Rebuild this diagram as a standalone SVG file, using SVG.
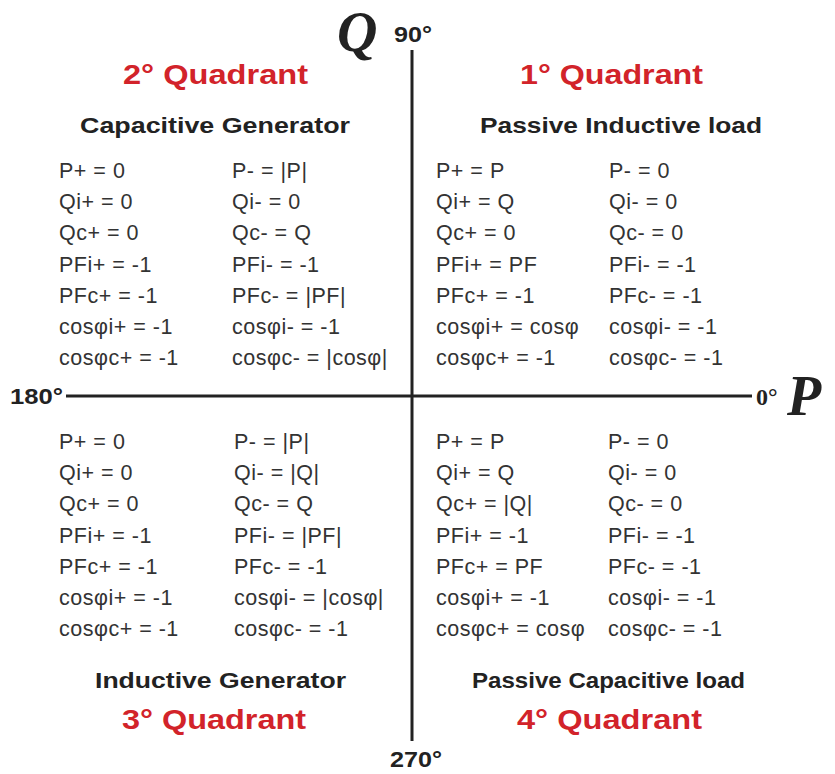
<svg xmlns="http://www.w3.org/2000/svg" width="835" height="774" viewBox="0 0 835 774">
<style>
.v{font-family:"Liberation Sans",Arial,sans-serif;font-size:21.5px;fill:#333;letter-spacing:0.5px}
.q{font-family:"Liberation Sans",Arial,sans-serif;font-size:27px;font-weight:bold;fill:#d2232a}
.s{font-family:"Liberation Sans",Arial,sans-serif;font-size:22px;font-weight:bold;fill:#222}
.b{font-family:"Liberation Sans",Arial,sans-serif;font-size:22px;font-weight:bold;fill:#222}
.big{font-family:"Liberation Serif","Times New Roman",serif;font-weight:bold;font-style:italic;fill:#222}
.ax{stroke:#222;stroke-width:3;fill:none}
</style>
<rect width="835" height="774" fill="#fff"/>
<g id="connectors">
<line class="ax" x1="412" y1="50" x2="412" y2="741"/>
<line class="ax" x1="66" y1="396" x2="752" y2="396"/>
</g>
<g id="axis-labels">
<text class="big" x="337" y="51" font-size="56">Q</text>
<text class="b" x="394" y="42" textLength="38" lengthAdjust="spacingAndGlyphs">90°</text>
<text class="b" x="10" y="404" textLength="53" lengthAdjust="spacingAndGlyphs">180°</text>
<text x="756" y="405" style="font-family:'Liberation Serif','Times New Roman',serif;font-size:24px;font-weight:bold;fill:#222">0°</text>
<text class="big" x="787" y="415" font-size="56">P</text>
<text class="b" x="390" y="767" textLength="52" lengthAdjust="spacingAndGlyphs">270°</text>
</g>
<g id="q2">
<text class="q" x="123" y="84" textLength="185" lengthAdjust="spacingAndGlyphs">2° Quadrant</text>
<text class="s" x="80" y="133" textLength="270" lengthAdjust="spacingAndGlyphs">Capacitive Generator</text>
<g class="v">
<text x="59" y="178">P+ = 0</text>
<text x="59" y="209">Qi+ = 0</text>
<text x="59" y="240">Qc+ = 0</text>
<text x="59" y="272">PFi+ = -1</text>
<text x="59" y="303">PFc+ = -1</text>
<text x="59" y="334">cosφi+ = -1</text>
<text x="59" y="365">cosφc+ = -1</text>
<text x="232" y="178">P- = |P|</text>
<text x="232" y="209">Qi- = 0</text>
<text x="232" y="240">Qc- = Q</text>
<text x="232" y="272">PFi- = -1</text>
<text x="232" y="303">PFc- = |PF|</text>
<text x="232" y="334">cosφi- = -1</text>
<text x="232" y="365">cosφc- = |cosφ|</text>
</g>
</g>
<g id="q1">
<text class="q" x="520" y="84" textLength="183" lengthAdjust="spacingAndGlyphs">1° Quadrant</text>
<text class="s" x="480" y="133" textLength="282" lengthAdjust="spacingAndGlyphs">Passive Inductive load</text>
<g class="v">
<text x="436" y="178">P+ = P</text>
<text x="436" y="209">Qi+ = Q</text>
<text x="436" y="240">Qc+ = 0</text>
<text x="436" y="272">PFi+ = PF</text>
<text x="436" y="303">PFc+ = -1</text>
<text x="436" y="334">cosφi+ = cosφ</text>
<text x="436" y="365">cosφc+ = -1</text>
<text x="609" y="178">P- = 0</text>
<text x="609" y="209">Qi- = 0</text>
<text x="609" y="240">Qc- = 0</text>
<text x="609" y="272">PFi- = -1</text>
<text x="609" y="303">PFc- = -1</text>
<text x="609" y="334">cosφi- = -1</text>
<text x="609" y="365">cosφc- = -1</text>
</g>
</g>
<g id="q3">
<g class="v">
<text x="59" y="449">P+ = 0</text>
<text x="59" y="480">Qi+ = 0</text>
<text x="59" y="511">Qc+ = 0</text>
<text x="59" y="543">PFi+ = -1</text>
<text x="59" y="574">PFc+ = -1</text>
<text x="59" y="605">cosφi+ = -1</text>
<text x="59" y="636">cosφc+ = -1</text>
<text x="234" y="449">P- = |P|</text>
<text x="234" y="480">Qi- = |Q|</text>
<text x="234" y="511">Qc- = Q</text>
<text x="234" y="543">PFi- = |PF|</text>
<text x="234" y="574">PFc- = -1</text>
<text x="234" y="605">cosφi- = |cosφ|</text>
<text x="234" y="636">cosφc- = -1</text>
</g>
<text class="s" x="95" y="688" font-size="23" textLength="251" lengthAdjust="spacingAndGlyphs">Inductive Generator</text>
<text class="q" x="122" y="729" textLength="184" lengthAdjust="spacingAndGlyphs">3° Quadrant</text>
</g>
<g id="q4">
<g class="v">
<text x="436" y="449">P+ = P</text>
<text x="436" y="480">Qi+ = Q</text>
<text x="436" y="511">Qc+ = |Q|</text>
<text x="436" y="543">PFi+ = -1</text>
<text x="436" y="574">PFc+ = PF</text>
<text x="436" y="605">cosφi+ = -1</text>
<text x="436" y="636">cosφc+ = cosφ</text>
<text x="608" y="449">P- = 0</text>
<text x="608" y="480">Qi- = 0</text>
<text x="608" y="511">Qc- = 0</text>
<text x="608" y="543">PFi- = -1</text>
<text x="608" y="574">PFc- = -1</text>
<text x="608" y="605">cosφi- = -1</text>
<text x="608" y="636">cosφc- = -1</text>
</g>
<text class="s" x="472" y="688" font-size="23" textLength="273" lengthAdjust="spacingAndGlyphs">Passive Capacitive load</text>
<text class="q" x="517" y="729" textLength="185" lengthAdjust="spacingAndGlyphs">4° Quadrant</text>
</g>
</svg>
